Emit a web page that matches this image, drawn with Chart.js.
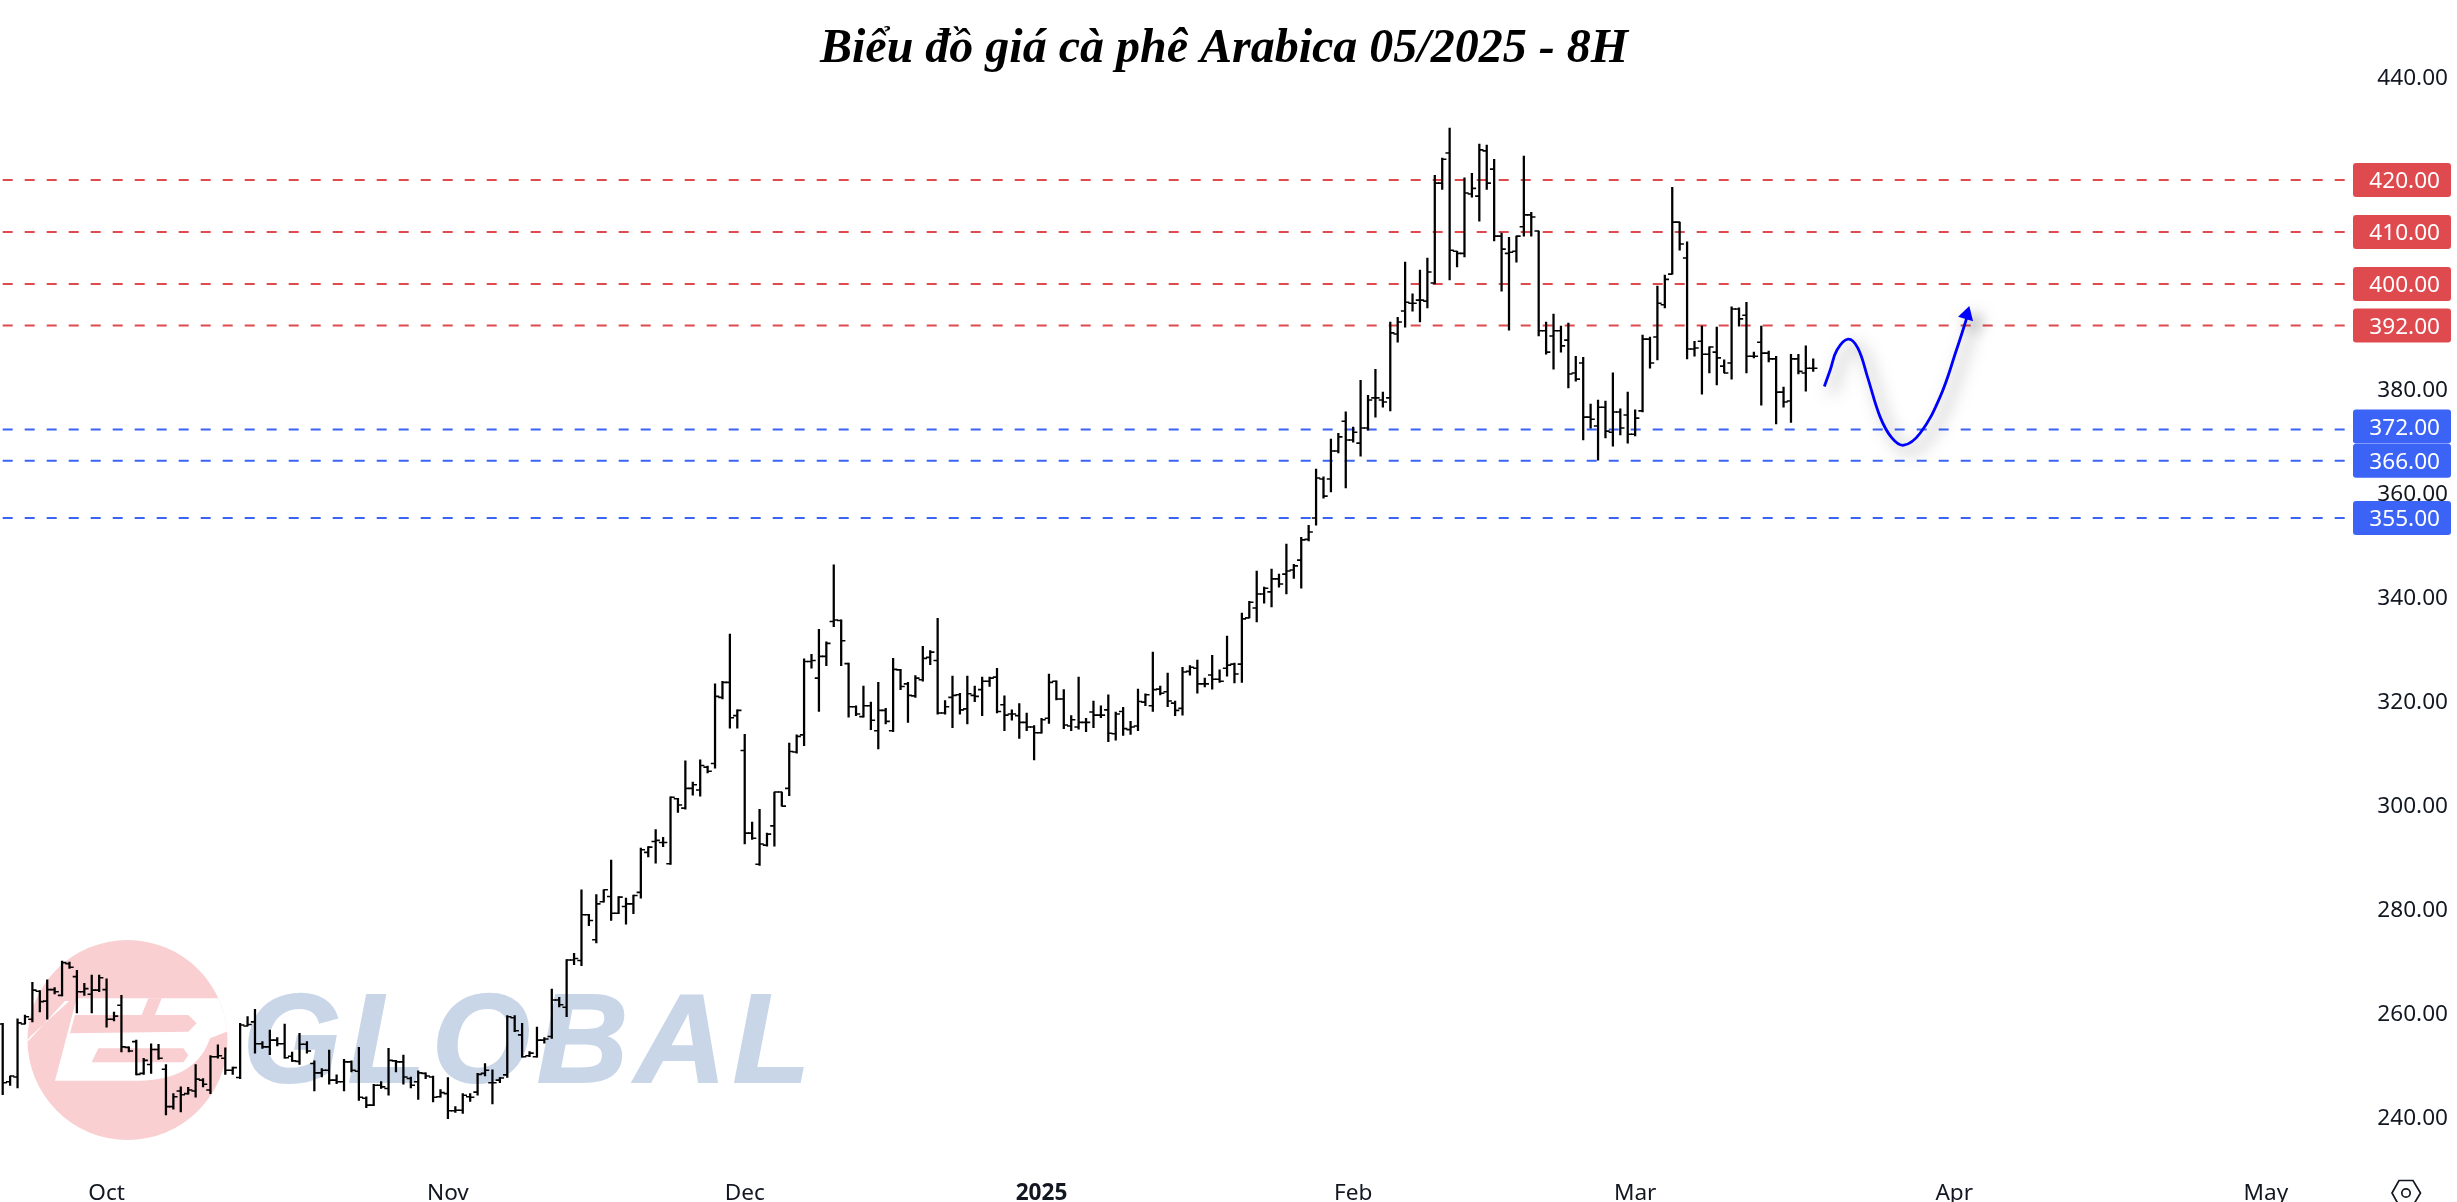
<!DOCTYPE html>
<html lang="vi">
<head>
  <meta charset="UTF-8">
  <title>Biểu đồ giá cà phê Arabica 05/2025 - 8H</title>
  <script src="https://cdn.jsdelivr.net/npm/chart.js"></script>
  <style>
    html, body { margin: 0; padding: 0; background: #fff; overflow: hidden; }
    canvas { display: block; }
  </style>
</head>
<body>
  <canvas id="priceChart" width="2457" height="1202"></canvas>

  <script>
    const chartTitle = 'Biểu đồ giá cà phê Arabica 05/2025 - 8H';

    const highs = [
      257.8,247.7,258.7,259.4,265.7,264.1,266.2,264.7,269.8,269.6,
      268.0,265.5,267.1,267.1,266.4,260.0,263.2,253.3,254.6,251.1,
      253.9,253.8,249.9,244.3,245.6,245.5,249.9,247.2,251.6,253.7,
      253.1,249.4,257.8,259.1,260.5,254.3,256.5,255.1,257.7,252.3,
      255.9,254.3,250.6,249.1,252.7,247.9,250.9,250.6,253.2,243.7,
      246.1,246.6,253.0,250.7,251.7,247.5,248.7,248.3,247.7,245.1,
      247.4,241.8,244.3,244.3,248.2,250.1,248.9,247.4,259.3,259.3,
      257.8,252.4,257.1,255.1,264.4,262.8,270.1,271.3,283.5,278.8,
      282.6,283.5,289.2,282.2,281.9,282.5,291.5,291.8,295.1,293.6,
      301.4,301.1,308.3,304.2,308.5,307.3,323.1,323.6,332.7,318.1,
      313.4,296.5,299.0,294.4,302.3,302.3,311.7,313.3,327.9,328.8,
      333.6,331.2,346.0,335.4,327.1,318.9,322.7,319.6,323.4,318.4,
      328.0,325.9,323.4,324.7,330.3,329.5,335.7,319.9,324.6,321.3,
      324.6,322.7,324.4,324.4,326.1,320.8,318.1,319.3,317.5,315.1,
      316.5,325.0,323.7,322.0,317.0,324.4,316.5,319.8,318.9,321.0,
      317.7,318.6,315.9,322.1,321.2,329.2,322.7,325.2,319.8,326.3,
      326.6,327.7,324.2,328.6,325.8,332.3,327.1,336.7,339.0,344.8,
      341.7,345.2,344.2,350.0,346.1,351.3,353.6,364.4,362.9,370.2,
      371.3,375.4,372.5,381.5,378.6,383.6,379.2,392.7,393.6,404.2,
      398.1,402.7,405.0,420.9,424.2,430.0,406.3,420.4,421.3,426.9,
      426.7,424.0,409.8,409.0,409.2,424.6,413.8,410.2,392.7,394.2,
      391.9,392.5,386.1,385.9,376.9,377.7,377.5,382.9,376.0,379.2,
      375.8,390.2,389.8,399.6,401.7,418.6,411.9,408.1,389.0,391.9,
      387.9,391.7,385.4,395.6,395.4,396.5,386.9,391.9,387.1,386.1,
      380.2,386.5,386.5,388.1,385.6
    ];

    const lows = [
      244.1,245.9,245.4,257.7,258.1,260.0,258.6,263.5,263.1,268.4,
      259.8,263.2,259.8,263.9,257.1,258.3,252.3,252.3,247.9,248.0,
      248.2,250.9,240.2,241.3,240.8,244.2,243.6,245.6,244.3,251.1,
      248.0,248.0,247.2,257.3,252.1,253.0,251.8,253.5,251.1,250.5,
      249.9,252.1,244.8,247.5,246.1,246.2,244.8,248.5,243.0,241.6,
      242.0,245.3,244.0,248.5,246.1,245.4,243.2,247.2,242.7,243.6,
      239.5,240.7,240.5,242.8,244.0,247.7,242.3,246.4,247.4,256.2,
      251.3,251.4,251.3,254.0,254.9,261.0,259.1,269.1,268.9,276.6,
      273.3,281.1,277.6,278.9,276.9,278.9,281.9,289.8,288.6,291.8,
      288.4,298.4,299.0,301.7,301.5,306.0,306.9,320.2,314.6,314.6,
      292.3,293.2,288.2,291.9,291.9,299.6,301.6,309.8,311.2,326.1,
      317.8,326.6,334.1,326.6,316.7,317.0,316.7,314.3,310.6,315.4,
      313.9,322.0,315.7,320.5,323.6,326.8,317.3,317.3,314.7,317.3,
      315.4,319.7,317.0,322.6,317.5,314.1,316.1,312.6,314.1,308.5,
      313.6,315.5,320.0,314.5,314.1,314.4,313.9,314.7,316.6,312.0,
      312.3,313.2,313.4,314.1,318.9,317.8,321.0,318.7,317.0,317.1,
      324.8,321.3,322.5,322.1,323.4,324.6,323.3,323.4,335.8,335.0,
      338.6,337.9,341.7,340.4,343.4,341.5,350.6,353.6,358.8,360.0,
      367.5,360.8,369.6,366.9,371.9,374.4,376.3,375.6,388.8,391.7,
      394.8,392.7,395.4,400.0,418.2,400.8,403.3,405.2,416.7,412.1,
      418.2,408.3,398.6,391.1,404.2,409.2,409.2,390.0,386.5,383.6,
      386.9,380.0,381.3,370.0,372.3,366.1,370.4,368.8,371.0,369.4,
      370.8,375.4,383.8,385.4,395.4,401.9,406.5,385.6,386.1,378.8,
      382.9,380.6,382.9,381.7,391.9,382.9,385.8,376.7,385.0,373.1,
      376.3,373.4,382.7,379.4,383.2
    ];

    const opens = [
      257.7,246.6,247.5,257.7,258.6,264.0,262.1,264.3,263.2,269.3,
      266.8,263.9,263.4,264.2,264.3,258.6,261.3,253.2,254.3,248.2,
      249.9,252.8,249.0,241.8,244.8,244.3,244.8,246.9,245.0,251.4,
      251.1,248.8,247.4,257.3,258.1,253.9,253.3,254.6,253.9,251.5,
      250.5,253.8,250.1,248.3,248.8,246.9,246.6,250.4,248.6,243.4,
      242.1,245.9,245.3,250.6,250.4,247.2,246.6,248.2,247.5,243.7,
      244.3,241.0,241.1,243.7,244.6,248.2,246.4,246.9,247.9,258.9,
      255.6,251.6,251.4,254.6,255.3,262.3,260.9,270.0,269.9,278.7,
      273.9,281.2,282.2,279.0,280.3,280.8,283.0,290.7,292.8,292.6,
      288.5,301.0,299.2,303.0,302.7,307.1,307.8,320.5,323.4,317.0,
      310.3,294.4,288.4,292.1,295.8,302.3,303.0,310.0,313.3,327.4,
      324.2,328.4,335.1,335.3,327.0,318.7,316.8,318.9,314.1,318.0,
      314.1,325.8,323.1,320.8,323.9,328.2,327.6,317.5,320.5,321.0,
      318.3,320.9,322.0,323.6,324.4,319.1,317.3,317.0,315.7,314.8,
      313.7,316.5,323.6,320.2,315.0,314.8,315.7,317.7,317.1,318.1,
      313.5,317.8,314.3,315.0,319.6,318.9,322.1,321.6,319.4,318.4,
      325.5,326.1,323.1,324.8,324.0,326.1,326.9,326.9,335.8,337.7,
      340.4,340.8,343.3,344.2,345.0,346.9,350.9,355.0,362.5,362.5,
      367.9,373.6,370.0,369.4,372.3,378.1,377.7,378.1,390.4,394.8,
      396.3,396.9,396.7,400.2,419.4,425.2,406.3,405.9,417.3,416.9,
      425.6,422.1,409.2,405.9,406.3,411.0,413.3,410.2,391.0,390.0,
      391.0,389.2,382.9,384.8,374.4,372.7,376.3,371.5,375.4,374.8,
      371.1,375.6,389.4,389.8,396.0,401.9,411.9,405.0,387.5,389.0,
      386.5,386.9,384.2,384.8,395.2,394.0,386.1,388.8,386.7,385.6,
      379.2,377.5,385.6,382.9,383.8
    ];

    const closes = [
      246.4,247.7,257.9,259.1,264.2,262.0,264.3,263.9,269.5,268.6,
      263.9,264.5,264.2,266.6,258.6,259.2,253.3,252.5,248.0,250.7,
      252.8,251.1,241.8,243.7,244.1,245.0,247.1,246.1,251.4,251.6,
      248.8,249.3,257.5,257.6,253.9,253.3,254.6,253.9,251.2,250.6,
      253.8,252.5,248.3,248.8,246.9,246.6,250.4,248.8,243.6,242.1,
      245.9,245.6,250.7,250.4,247.5,245.9,248.3,247.7,243.6,244.5,
      241.0,241.1,244.0,243.6,248.0,248.8,246.4,247.3,259.1,256.4,
      251.4,252.1,254.6,254.8,262.3,261.4,270.0,270.3,278.7,277.6,
      280.8,283.5,279.0,282.1,280.8,282.4,291.2,291.7,293.0,292.6,
      301.3,299.8,303.0,303.7,307.4,306.3,320.7,323.4,316.6,318.0,
      294.4,293.4,292.3,294.2,302.3,299.6,310.1,313.0,327.4,327.6,
      328.4,330.9,335.4,331.4,318.7,317.3,318.9,316.1,318.0,315.9,
      325.9,322.6,320.9,324.2,328.0,329.2,317.5,318.7,320.9,318.1,
      321.2,320.7,323.6,324.2,317.8,317.1,317.3,315.7,314.8,313.7,
      316.2,323.4,320.2,315.2,316.2,315.7,315.7,317.1,317.1,313.6,
      317.3,314.5,314.8,319.7,321.0,322.0,321.3,319.8,318.0,325.4,
      326.3,323.1,323.1,324.0,323.6,326.7,325.0,335.6,338.8,340.4,
      341.5,343.3,342.3,344.8,345.8,350.8,352.3,362.7,359.2,367.9,
      370.6,370.0,371.5,372.3,377.7,378.1,377.3,390.6,392.7,396.5,
      396.3,396.9,402.3,419.4,424.0,406.5,405.9,417.5,418.4,425.8,
      419.4,409.2,406.7,406.1,409.2,413.3,412.9,391.0,386.9,391.0,
      388.1,382.7,381.7,374.4,374.0,376.3,371.7,375.4,372.3,371.1,
      374.2,389.4,384.8,396.3,400.9,411.9,407.7,387.5,387.7,386.5,
      387.9,385.8,382.9,395.2,393.3,386.1,386.1,386.7,385.6,379.2,
      377.3,385.6,383.2,383.8,383.8
    ];

    // month labels sit at these bar positions
    const monthPositions = [14, 60, 100, 140, 182, 220, 263, 305];
    const monthLabels = ['Oct', 'Nov', 'Dec', '2025', 'Feb', 'Mar', 'Apr', 'May'];

    const redLevels = [420, 410, 400, 392];
    const blueLevels = [372, 366, 355];

    // the hand drawn forecast curve and its arrow head
    const curveX = [245.5, 246.3, 247.2, 248.7, 250.0, 251.3, 253.0, 254.6, 256.2, 258.4, 261.1, 263.3, 264.9];
    const curveY = [380.3, 383.5, 387.3, 389.4, 387.7, 382.2, 374.5, 370.4, 369.0, 371.3, 378.3, 387.3, 394.4];
    const arrowX = 264.7;
    const arrowY = 394.1;

    const RED = '#df4a4f';
    const BLUE = '#3b63f6';
    const INK = '#131722';
    const FONT = '"Noto Sans", sans-serif';
    const TICK_OFFSET = 0.27;

    const levelDataset = (value, color) => ({
      type: 'line',
      data: [{ x: 0, y: value }, { x: 315.8, y: value }],
      borderColor: color,
      borderWidth: 2,
      borderDash: [10, 12],
      pointRadius: 0,
      order: 5
    });

    const tickDataset = (values, offset) => ({
      type: 'line',
      data: values.map((v, i) => ({ x: i + offset, y: v })),
      showLine: false,
      pointStyle: 'line',
      pointRadius: 2.2,
      pointBorderWidth: 1.6,
      pointBorderColor: '#000',
      order: 2
    });

    // watermark behind the bars: logo disc and company name
    const watermark = {
      id: 'watermark',
      beforeDatasetsDraw(chart) {
        const ctx = chart.ctx;
        ctx.save();
        ctx.beginPath();
        ctx.arc(127.5, 1040, 100, 0, Math.PI * 2);
        ctx.fillStyle = '#f9cfd2';
        ctx.fill();
        ctx.clip();

        const px = v => 20 + v / 3;
        const py = v => 930 + v / 3;
        const poly = (pts, color) => {
          ctx.beginPath();
          pts.forEach((p, i) => i ? ctx.lineTo(px(p[0]), py(p[1])) : ctx.moveTo(px(p[0]), py(p[1])));
          ctx.closePath();
          ctx.fillStyle = color;
          ctx.fill();
        };
        // white letter body
        ctx.beginPath();
        ctx.moveTo(px(170), py(205));
        ctx.lineTo(px(660), py(205));
        ctx.lineTo(px(660), py(290));
        ctx.lineTo(px(570), py(325));
        ctx.bezierCurveTo(px(545), py(400), px(480), py(452), px(355), py(452));
        ctx.lineTo(px(105), py(452));
        ctx.closePath();
        ctx.fillStyle = '#fff';
        ctx.fill();
        // sliver on the left, bars and strip of the letter
        poly([[0, 360], [135, 213], [148, 213], [30, 320]], '#fff');
        poly([[165, 255], [505, 255], [530, 280], [505, 305], [150, 310]], '#f9cfd2');
        poly([[235, 355], [490, 355], [505, 376], [490, 397], [215, 397]], '#f9cfd2');
        poly([[385, 205], [425, 205], [405, 255], [365, 255]], '#f9cfd2');
        ctx.restore();

        ctx.save();
        ctx.font = 'italic bold 126px "Liberation Sans", sans-serif';
        ctx.letterSpacing = '7px';
        ctx.fillStyle = '#c9d6e8';
        ctx.strokeStyle = '#c9d6e8';
        ctx.lineWidth = 2;
        ctx.textAlign = 'left';
        ctx.textBaseline = 'alphabetic';
        ctx.fillText('GLOBAL', 243, 1082);
        ctx.strokeText('GLOBAL', 243, 1082);
        ctx.restore();
      }
    };

    // soft shadow under the forecast curve and arrow
    const curveShadow = {
      id: 'curveShadow',
      beforeDatasetDraw(chart, args) {
        if (!chart.data.datasets[args.index].shadow) return;
        const ctx = chart.ctx;
        ctx.save();
        ctx.shadowColor = 'rgba(0,0,0,0.5)';
        ctx.shadowBlur = 16;
        ctx.shadowOffsetX = 7;
        ctx.shadowOffsetY = 7;
      },
      afterDatasetDraw(chart, args) {
        if (chart.data.datasets[args.index].shadow) chart.ctx.restore();
      }
    };

    // coloured price tags over the axis and the settings icon
    const priceTags = {
      id: 'priceTags',
      afterDraw(chart) {
        const ctx = chart.ctx;
        const yScale = chart.scales.y;
        const tag = (value, color) => {
          // the 372 tag is pushed up a little by the one below it
          const y = yScale.getPixelForValue(value) - (value === 372 ? 3 : 0);
          ctx.beginPath();
          ctx.roundRect(2353, y - 17, 98, 34, 3);
          ctx.fillStyle = color;
          ctx.fill();
          ctx.fillStyle = '#fff';
          ctx.font = '22.6px ' + FONT;
          ctx.textAlign = 'right';
          ctx.textBaseline = 'middle';
          ctx.fillText(value.toFixed(2), 2440, y + 2);
        };
        ctx.save();
        redLevels.forEach(v => tag(v, RED));
        blueLevels.forEach(v => tag(v, BLUE));

        ctx.strokeStyle = INK;
        ctx.lineWidth = 1.7;
        ctx.beginPath();
        ctx.moveTo(2392, 1193);
        ctx.lineTo(2399, 1180.5);
        ctx.lineTo(2413, 1180.5);
        ctx.lineTo(2420.5, 1193);
        ctx.lineTo(2413, 1205.5);
        ctx.lineTo(2399, 1205.5);
        ctx.closePath();
        ctx.stroke();
        ctx.beginPath();
        ctx.arc(2406, 1193, 4.2, 0, Math.PI * 2);
        ctx.stroke();
        ctx.restore();
      }
    };

    new Chart(document.getElementById('priceChart'), {
      type: 'bar',
      data: {
        datasets: [
          ...redLevels.map(v => levelDataset(v, RED)),
          ...blueLevels.map(v => levelDataset(v, BLUE)),
          {
            type: 'bar',
            data: highs.map((h, i) => ({ x: i, y: [lows[i], h] })),
            backgroundColor: '#000',
            barThickness: 1.6,
            order: 3
          },
          tickDataset(opens, -TICK_OFFSET),
          tickDataset(closes, TICK_OFFSET),
          {
            type: 'line',
            shadow: true,
            data: curveX.map((x, i) => ({ x, y: curveY[i] })),
            borderColor: '#0000ff',
            borderWidth: 2.8,
            tension: 0.4,
            pointRadius: 0,
            order: 1
          },
          {
            type: 'line',
            shadow: true,
            data: [{ x: arrowX, y: arrowY }],
            showLine: false,
            pointStyle: 'triangle',
            pointRadius: 9,
            pointRotation: 16,
            pointBackgroundColor: '#0000ff',
            pointBorderColor: '#0000ff',
            pointBorderWidth: 0,
            order: 0
          }
        ]
      },
      options: {
        responsive: false,
        animation: false,
        layout: { padding: { right: 9 }, autoPadding: false },
        plugins: {
          legend: { display: false },
          tooltip: { enabled: false },
          title: {
            display: true,
            text: chartTitle,
            color: '#000',
            padding: { top: 21, bottom: -3 },
            font: { family: '"Liberation Serif", serif', size: 48, weight: 'bold', style: 'italic', lineHeight: 1.2 }
          }
        },
        scales: {
          x: {
            type: 'linear',
            min: -0.364,
            max: 315.8,
            offset: false,
            grid: { display: false, drawTicks: false },
            border: { display: false },
            afterBuildTicks(scale) {
              scale.ticks = monthPositions.map(value => ({ value }));
            },
            afterFit(scale) {
              scale.height = 47;
              scale.paddingLeft = 0;
              scale.paddingRight = 0;
            },
            ticks: {
              autoSkip: false,
              maxRotation: 0,
              padding: 25,
              color: INK,
              font: ctx => ({ family: FONT, size: 22.6, weight: ctx.tick && ctx.tick.value === 140 ? 'bold' : 'normal' }),
              callback: value => monthLabels[monthPositions.indexOf(value)]
            }
          },
          y: {
            position: 'right',
            min: 232.5,
            max: 440.08,
            grid: { display: false, drawTicks: false },
            border: { display: false },
            afterFit(scale) {
              scale.width = 102;
              scale.paddingTop = 0;
              scale.paddingBottom = 0;
            },
            ticks: {
              stepSize: 20,
              includeBounds: false,
              autoSkip: false,
              padding: 9,
              labelOffset: 3,
              crossAlign: 'far',
              color: INK,
              font: { family: FONT, size: 22.6 },
              callback: value => value.toFixed(2)
            }
          }
        }
      },
      plugins: [watermark, curveShadow, priceTags]
    });
  </script>
</body>
</html>
